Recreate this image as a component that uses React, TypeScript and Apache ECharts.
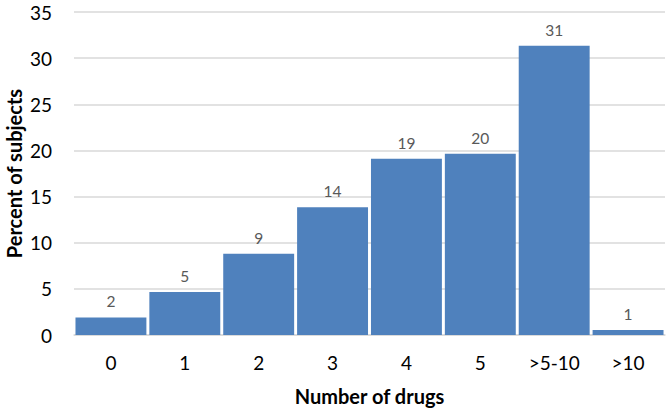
import React, { useEffect, useRef } from "react";
import * as echarts from "echarts";

const categories = ["0", "1", "2", "3", "4", "5", ">5-10", ">10"];
const values = [1.9, 4.65, 8.8, 13.85, 19.1, 19.65, 31.35, 0.55];
const labels = ["2", "5", "9", "14", "19", "20", "31", "1"];

const FONT = "Lato, 'Open Sans', sans-serif";

export default function App() {
  const ref = useRef<HTMLDivElement>(null);
  useEffect(() => {
    if (!ref.current) return;
    const chart = echarts.init(ref.current, undefined, { renderer: "svg" });
    chart.setOption({
      animation: false,
      grid: { left: 74, right: 1, top: 12, bottom: 77, outerBoundsMode: "none", containLabel: false },
      xAxis: {
        type: "category",
        data: categories,
        name: "Number of drugs",
        nameLocation: "middle",
        nameGap: 51,
        nameMoveOverlap: false,
        nameTextStyle: { fontFamily: FONT, fontSize: 20, fontWeight: "bold", color: "#000" },
        axisLine: { lineStyle: { color: "#d9d9d9", width: 1.5 } },
        axisTick: { show: false },
        axisLabel: { fontFamily: FONT, fontSize: 19, color: "#000", margin: 18 },
      },
      yAxis: {
        type: "value",
        min: 0,
        max: 35,
        interval: 5,
        name: "Percent of subjects",
        nameLocation: "middle",
        nameGap: 50,
        nameMoveOverlap: false,
        nameTextStyle: { fontFamily: FONT, fontSize: 20, fontWeight: "bold", color: "#000" },
        axisLine: { show: false },
        axisTick: { show: false },
        axisLabel: { fontFamily: FONT, fontSize: 19, color: "#000", margin: 22 },
        splitLine: { lineStyle: { color: "#d9d9d9", width: 1.5 } },
      },
      series: [
        {
          type: "bar",
          data: values,
          barCategoryGap: "4%",
          itemStyle: { color: "#4f81bd" },
          label: {
            show: true,
            position: "top",
            distance: 8,
            fontFamily: FONT,
            fontSize: 15.5,
            color: "#595959",
            formatter: (p: any) => labels[p.dataIndex],
          },
        },
      ],
    });
    return () => chart.dispose();
  }, []);
  return <div ref={ref} style={{ width: 666, height: 412, position: "absolute", left: 0, top: 0 }} />;
}
